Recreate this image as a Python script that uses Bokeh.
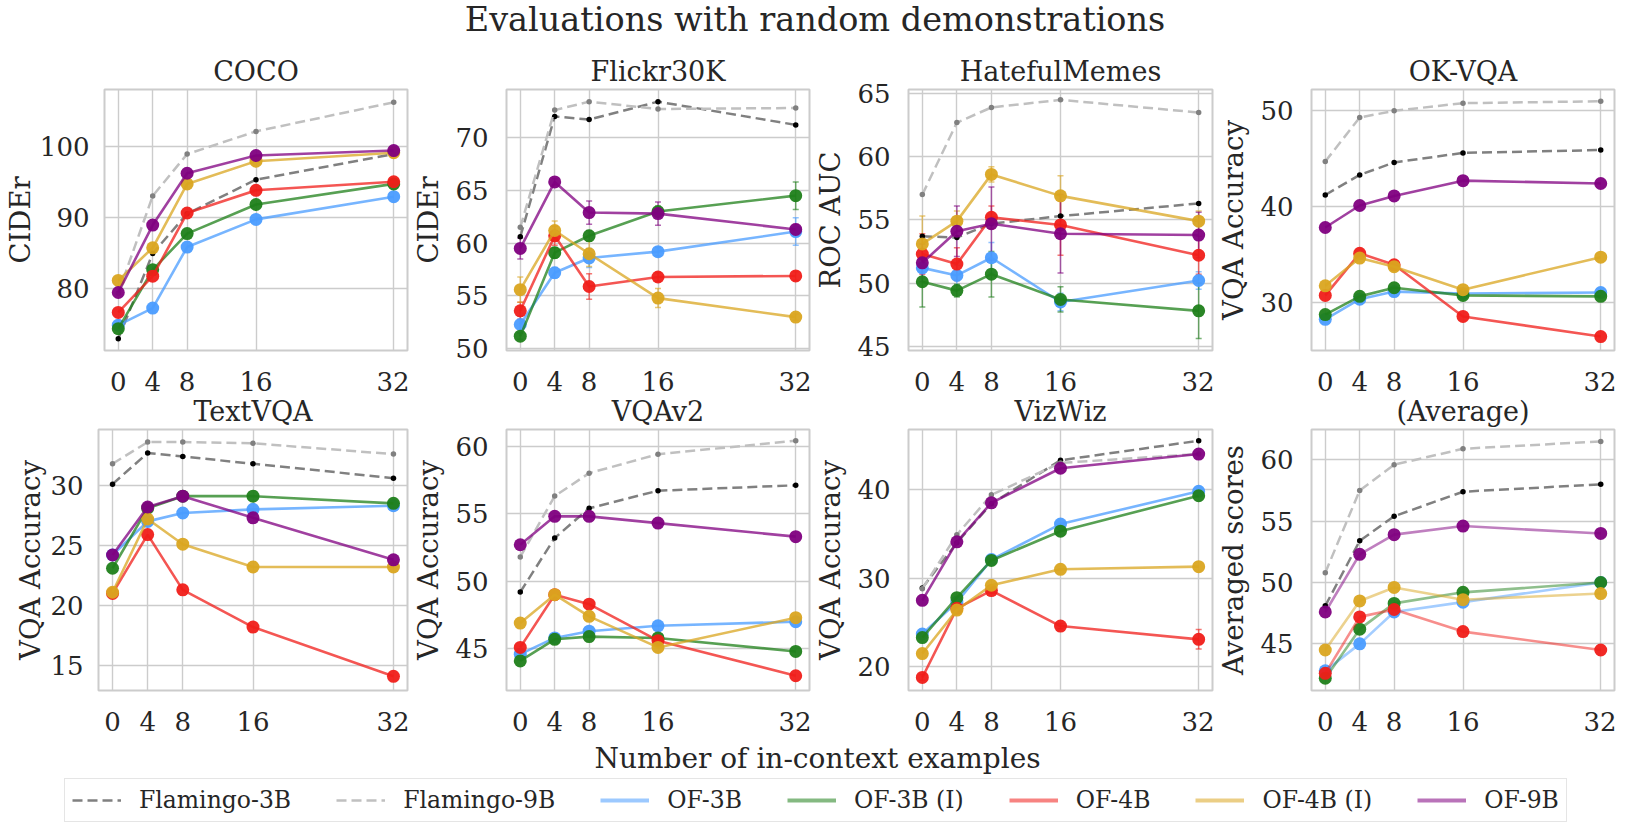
from bokeh.plotting import figure
from bokeh.models import (Range1d, FixedTicker, Label, Legend, LegendItem,
                          ColumnDataSource, Whisker, TeeHead)
from bokeh.layouts import column, row
from bokeh.embed import file_html
from bokeh.resources import INLINE

# ---------------- data ----------------
shots = [0, 4, 8, 16, 32]
models = ["Flamingo-3B", "Flamingo-9B", "OF-3B", "OF-3B (I)", "OF-4B", "OF-4B (I)", "OF-9B"]

coco = {
    "Flamingo-3B": [73.0, 85.0, 90.6, 95.4, 99.0],
    "Flamingo-9B": [79.4, 93.1, 99.0, 102.2, 106.3],
    "OF-3B": [74.9, 77.3, 85.9, 89.8, 93.0],
    "OF-3B (I)": [74.4, 82.7, 87.8, 91.9, 94.8],
    "OF-4B": [76.7, 81.8, 90.7, 93.9, 95.1],
    "OF-4B (I)": [81.2, 85.8, 94.8, 98.0, 99.2],
    "OF-9B": [79.5, 89.0, 96.3, 98.8, 99.5],
}
flickr = {
    "Flamingo-3B": [60.6, 72.0, 71.7, 73.4, 71.2],
    "Flamingo-9B": [61.5, 72.6, 73.4, 72.7, 72.8],
    "OF-3B": [52.3, 57.2, 58.6, 59.2, 61.1],
    "OF-3B (I)": [51.2, 59.1, 60.7, 63.0, 64.5],
    "OF-4B": [53.6, 60.7, 55.9, 56.8, 56.9],
    "OF-4B (I)": [55.6, 61.2, 59.0, 54.8, 53.0],
    "OF-9B": [59.5, 65.8, 62.9, 62.8, 61.3],
}
hateful = {
    "Flamingo-3B": [53.7, 53.6, 54.7, 55.3, 56.3],
    "Flamingo-9B": [57.0, 62.7, 63.9, 64.5, 63.5],
    "OF-3B": [51.2, 50.6, 52.0, 48.5, 50.2],
    "OF-3B (I)": [50.1, 49.4, 50.7, 48.7, 47.8],
    "OF-4B": [52.3, 51.5, 55.2, 54.6, 52.2],
    "OF-4B (I)": [53.1, 54.9, 58.6, 56.9, 54.9],
    "OF-9B": [51.6, 54.1, 54.7, 53.9, 53.8],
}
okvqa = {
    "Flamingo-3B": [41.2, 43.3, 44.6, 45.6, 45.9],
    "Flamingo-9B": [44.7, 49.3, 50.0, 50.8, 51.0],
    "OF-3B": [28.2, 30.3, 31.1, 30.9, 31.0],
    "OF-3B (I)": [28.7, 30.6, 31.5, 30.7, 30.6],
    "OF-4B": [30.7, 35.1, 33.9, 28.5, 26.4],
    "OF-4B (I)": [31.7, 34.6, 33.7, 31.3, 34.7],
    "OF-9B": [37.8, 40.1, 41.1, 42.7, 42.4],
}
textvqa = {
    "Flamingo-3B": [30.1, 32.7, 32.4, 31.8, 30.6],
    "Flamingo-9B": [31.8, 33.6, 33.6, 33.5, 32.6],
    "OF-3B": [24.2, 27.0, 27.7, 28.0, 28.3],
    "OF-3B (I)": [23.1, 28.1, 29.1, 29.1, 28.5],
    "OF-4B": [21.0, 25.9, 21.3, 18.2, 14.1],
    "OF-4B (I)": [21.1, 27.2, 25.1, 23.2, 23.2],
    "OF-9B": [24.2, 28.2, 29.1, 27.3, 23.8],
}
vqav2 = {
    "Flamingo-3B": [49.2, 53.2, 55.4, 56.7, 57.1],
    "Flamingo-9B": [51.8, 56.3, 58.0, 59.4, 60.4],
    "OF-3B": [44.6, 45.8, 46.3, 46.7, 47.0],
    "OF-3B (I)": [44.1, 45.7, 45.9, 45.8, 44.8],
    "OF-4B": [45.1, 49.0, 48.3, 45.6, 43.0],
    "OF-4B (I)": [46.9, 49.0, 47.4, 45.1, 47.3],
    "OF-9B": [52.7, 54.8, 54.8, 54.3, 53.3],
}
vizwiz = {
    "Flamingo-3B": [28.9, 34.0, 38.4, 43.3, 45.5],
    "Flamingo-9B": [28.8, 34.9, 39.4, 43.0, 44.0],
    "OF-3B": [23.7, 27.3, 32.1, 36.1, 39.8],
    "OF-3B (I)": [23.3, 27.8, 32.0, 35.3, 39.3],
    "OF-4B": [18.8, 26.6, 28.6, 24.6, 23.1],
    "OF-4B (I)": [21.5, 26.4, 29.2, 31.0, 31.3],
    "OF-9B": [27.5, 34.1, 38.5, 42.4, 44.0],
}
average = {
    "Flamingo-3B": [48.1, 53.4, 55.4, 57.4, 58.0],
    "Flamingo-9B": [50.8, 57.5, 59.6, 60.9, 61.5],
    "OF-3B": [42.8, 45.0, 47.6, 48.4, 50.0],
    "OF-3B (I)": [42.2, 46.2, 48.3, 49.2, 50.0],
    "OF-4B": [42.6, 47.2, 47.8, 46.0, 44.5],
    "OF-4B (I)": [44.5, 48.5, 49.6, 48.6, 49.1],
    "OF-9B": [47.6, 52.3, 53.9, 54.6, 54.0],
}

# standard deviations (error bars) of the OpenFlamingo runs
flickr_err = {
    "OF-3B": [0.8, 0.5, 0.9, 0.4, 1.3],
    "OF-3B (I)": [0.3, 0.5, 0.5, 0.5, 1.3],
    "OF-4B": [0.8, 0.9, 1.2, 0.4, 0.4],
    "OF-4B (I)": [1.2, 0.9, 1.2, 0.9, 0.3],
    "OF-9B": [1.0, 0.3, 1.1, 1.1, 0.5],
}
hateful_err = {
    "OF-3B": [0.8, 0.8, 1.2, 0.7, 0.7],
    "OF-3B (I)": [2.0, 0.5, 1.8, 1.0, 2.2],
    "OF-4B": [1.6, 1.3, 0.9, 2.4, 1.5],
    "OF-4B (I)": [2.2, 0.8, 0.6, 1.6, 0.8],
    "OF-9B": [1.5, 2.0, 2.9, 3.1, 1.8],
}
vizwiz_err = {
    "OF-4B": [0.3, 0.3, 0.3, 0.3, 1.1],
}

panel_titles = ["COCO", "Flickr30K", "HatefulMemes", "OK-VQA",
                "TextVQA", "VQAv2", "VizWiz", "(Average)"]
panel_ylabels = ["CIDEr", "CIDEr", "ROC AUC", "VQA Accuracy",
                 "VQA Accuracy", "VQA Accuracy", "VQA Accuracy", "Averaged scores"]
panel_data = [coco, flickr, hateful, okvqa, textvqa, vqav2, vizwiz, average]
panel_err = [None, flickr_err, hateful_err, None, None, None, vizwiz_err, None]
panel_yranges = [(71.33, 108.1), (49.84, 74.55), (44.66, 65.32), (24.94, 52.23),
                 (12.92, 34.65), (41.91, 61.23), (17.33, 46.77), (41.2, 62.47)]
panel_yticks = [[80, 90, 100], [50, 55, 60, 65, 70], [45, 50, 55, 60, 65], [30, 40, 50],
                [15, 20, 25, 30], [45, 50, 55, 60], [20, 30, 40], [45, 50, 55, 60]]

# ---------------- style ----------------
FONT = "DejaVu Serif"
TXT = "#262626"
GRID = "#cccccc"
line_colors = {
    "Flamingo-3B": "#808080", "Flamingo-9B": "#c0c0c0",
    "OF-3B": "#4a9cff", "OF-3B (I)": "#1f801a", "OF-4B": "#f01e19",
    "OF-4B (I)": "#daa520", "OF-9B": "#800080",
}
marker_colors = {
    "Flamingo-3B": "#000000", "Flamingo-9B": "#808080",
    "OF-3B": "#4a9cff", "OF-3B (I)": "#1f801a", "OF-4B": "#f01e19",
    "OF-4B (I)": "#daa520", "OF-9B": "#800080",
}

FRAME_H = 261
X0, X1 = -1.6, 33.6
col_widths = [309, 309, 310, 309]
col_left = [98, 91, 91, 91]
col_right = [2, 2, 2, 2]
row_top = [45, 48]
row_bottom = [55, 55]
ROW2_OVERLAP = 24  # second row is pulled up over the first row's empty bottom border


def make_panel(i):
    r, c = divmod(i, 4)
    y0, y1 = panel_yranges[i]
    w = col_left[c] + col_widths[c] + col_right[c]
    h = row_top[r] + FRAME_H + row_bottom[r]
    p = figure(width=w, height=h, x_range=Range1d(X0, X1), y_range=Range1d(y0, y1),
               output_backend="svg", toolbar_location=None,
               min_border_left=col_left[c], min_border_right=col_right[c],
               min_border_top=row_top[r], min_border_bottom=row_bottom[r],
               title=panel_titles[i])
    p.title.align = "center"
    p.title.text_font = FONT
    p.title.text_font_size = "27px"
    p.title.text_font_style = "normal"
    p.title.text_color = TXT
    p.title.standoff = 6
    p.background_fill_color = "white"
    p.border_fill_color = "white"
    if r == 1:
        p.border_fill_alpha = 0
    p.outline_line_color = GRID
    p.outline_line_width = 2

    p.xaxis.ticker = FixedTicker(ticks=shots)
    p.yaxis.ticker = FixedTicker(ticks=panel_yticks[i])
    for ax in (p.xaxis, p.yaxis):
        ax.axis_line_color = None
        ax.major_tick_line_color = None
        ax.minor_tick_line_color = None
        ax.major_tick_out = 0
        ax.major_tick_in = 0
        ax.major_label_text_font = FONT
        ax.major_label_text_font_size = "26px"
        ax.major_label_text_color = TXT
    p.xaxis.major_label_standoff = 21
    p.yaxis.major_label_standoff = 15 if c == 0 else 18
    p.yaxis.axis_label = panel_ylabels[i]
    p.yaxis.axis_label_text_font = FONT
    p.yaxis.axis_label_text_font_size = "27.5px"
    p.yaxis.axis_label_text_font_style = "normal"
    p.yaxis.axis_label_text_color = TXT
    p.yaxis.axis_label_standoff = 1 if c == 0 else 8

    p.grid.grid_line_color = GRID
    p.grid.grid_line_width = 1.4

    data = panel_data[i]
    errs = panel_err[i]
    lalpha = 0.5 if i == 7 else 0.75
    for m in models:
        ys = data[m]
        if m.startswith("Flamingo"):
            p.line(shots, ys, line_color=line_colors[m], line_width=2.5, line_dash="10 5")
            p.scatter(shots, ys, size=5.5, fill_color=marker_colors[m], line_color=None)
        else:
            if errs is not None and m in errs:
                e = errs[m]
                src = ColumnDataSource(dict(x=shots,
                                            lo=[v - d for v, d in zip(ys, e)],
                                            hi=[v + d for v, d in zip(ys, e)]))
                wk = Whisker(source=src, base="x", lower="lo", upper="hi",
                             line_color=line_colors[m], line_alpha=0.6, line_width=1.5,
                             upper_head=TeeHead(size=6, line_color=line_colors[m], line_alpha=0.6, line_width=1.5),
                             lower_head=TeeHead(size=6, line_color=line_colors[m], line_alpha=0.6, line_width=1.5))
                p.add_layout(wk)
            p.line(shots, ys, line_color=line_colors[m], line_width=2.6, line_alpha=lalpha)
            p.scatter(shots, ys, size=13, fill_color=marker_colors[m], line_color=None,
                      fill_alpha=0.95)
    return p


panels = [make_panel(i) for i in range(8)]

TOTAL_W = sum(col_left[c] + col_widths[c] + col_right[c] for c in range(4))

# suptitle (figure pulled up into the page margin)
TOP_H = 52
title_fig = figure(width=TOTAL_W, height=TOP_H, x_range=Range1d(0, TOTAL_W), y_range=Range1d(0, TOP_H),
                   min_border=0, toolbar_location=None, output_backend="svg",
                   x_axis_type=None, y_axis_type=None, outline_line_color=None,
                   margin=(-8, 0, 0, 0))
title_fig.grid.visible = False
title_fig.background_fill_alpha = 0
title_fig.border_fill_alpha = 0
title_fig.add_layout(Label(x=814.5, y=25, text="Evaluations with random demonstrations",
                           text_align="center", text_baseline="alphabetic",
                           text_font=FONT, text_font_size="33.5px", text_color=TXT))

# x label + legend (figure reaching into the bottom page margin)
BOT_H = 93
bottom_fig = figure(width=TOTAL_W, height=BOT_H, x_range=Range1d(0, TOTAL_W), y_range=Range1d(0, BOT_H),
                    min_border=0, toolbar_location=None, output_backend="svg",
                    x_axis_type=None, y_axis_type=None, outline_line_color=None,
                    margin=(-12, 0, -8, 0))
bottom_fig.grid.visible = False
bottom_fig.background_fill_alpha = 0
bottom_fig.border_fill_alpha = 0
bottom_fig.add_layout(Label(x=817, y=68, text="Number of in-context examples",
                            text_align="center", text_baseline="alphabetic",
                            text_font=FONT, text_font_size="28px", text_color=TXT))
items = []
for m in models:
    if m.startswith("Flamingo"):
        rnd = bottom_fig.line([-50, -40], [-50, -50], line_color=line_colors[m],
                              line_width=2.5, line_dash="10 5")
    else:
        rnd = bottom_fig.line([-50, -40], [-50, -50], line_color=line_colors[m],
                              line_width=4, line_alpha=0.55)
    items.append(LegendItem(label=m, renderers=[rnd]))
legend = Legend(items=items, orientation="horizontal", location=(64, 4),
                label_text_font=FONT, label_text_font_size="23.5px", label_text_color=TXT,
                glyph_width=49, glyph_height=20, label_standoff=18, spacing=45,
                padding=7, margin=0, border_line_color=GRID, border_line_width=1.5,
                background_fill_color="white", background_fill_alpha=1.0)
bottom_fig.add_layout(legend, "center")

row1 = row(*panels[:4])
row2 = row(*panels[4:], margin=(-ROW2_OVERLAP, 0, 0, 0))
layout = column(title_fig, row1, row2, bottom_fig)

open("out.html", "w").write(file_html(layout, INLINE))
